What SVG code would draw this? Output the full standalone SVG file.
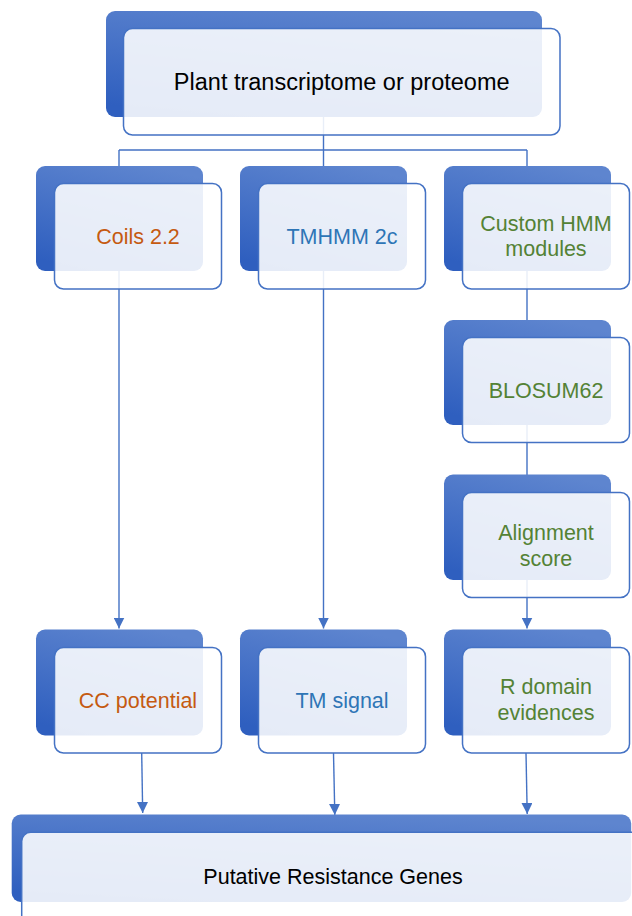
<svg xmlns="http://www.w3.org/2000/svg" width="632" height="916" viewBox="0 0 632 916">
<defs>
<linearGradient id="bg" x1="0.7" y1="0" x2="0.3" y2="1">
<stop offset="0" stop-color="#5e85cf"/>
<stop offset="1" stop-color="#2f5fbf"/>
</linearGradient>
<marker id="ah" viewBox="0 0 10 10" refX="10" refY="5" markerWidth="11" markerHeight="11" markerUnits="userSpaceOnUse" orient="auto">
<path d="M0,0 L10,5 L0,10 z" fill="#4472c4"/>
</marker>
<style>
.back{fill:url(#bg);}
.front{fill:#ffffff;fill-opacity:0.88;stroke:#4472c4;stroke-width:1.5;}
.conn{fill:none;stroke:#4472c4;stroke-width:1.4;}
text{font-family:"Liberation Sans",Arial,sans-serif;font-size:21.5px;text-anchor:middle;}
.k{fill:#000000;}
.o{fill:#c55a11;}
.b{fill:#2e75b6;}
.g{fill:#548235;}
</style>
</defs>
<rect width="632" height="916" fill="#ffffff"/>
<g id="connectors">
<path class="conn" d="M323.5,110 V150 M119,150 H527 M119,150 V200 M323.5,150 V200 M527,150 V200"/>
<path class="conn" d="M527,200 V340"/>
<path class="conn" d="M527,360 V490"/>
<path class="conn" d="M527,520 V628.5" marker-end="url(#ah)"/>
<path class="conn" d="M119,200 V628.5" marker-end="url(#ah)"/>
<path class="conn" d="M323.5,200 V628.5" marker-end="url(#ah)"/>
<path class="conn" d="M141.7,753 L142.7,813" marker-end="url(#ah)"/>
<path class="conn" d="M333.5,753 L334.8,815" marker-end="url(#ah)"/>
<path class="conn" d="M526,753 L527.2,814" marker-end="url(#ah)"/>
</g>
<g id="node-top">
<rect class="back" x="106" y="11" width="436" height="106" rx="9"/>
<rect class="front" x="123.5" y="28.5" width="436.5" height="106.5" rx="9"/>
<text class="k" x="341.7" y="89.5" style="font-size:23.5px">Plant transcriptome or proteome</text>
</g>
<g id="node-coils">
<rect class="back" x="36" y="166" width="167" height="105" rx="9"/>
<rect class="front" x="54.5" y="183.5" width="167" height="105.5" rx="9"/>
<text class="o" x="138" y="243.5">Coils 2.2</text>
</g>
<g id="node-tmhmm">
<rect class="back" x="240" y="166" width="167" height="105" rx="9"/>
<rect class="front" x="258.5" y="183.5" width="167" height="105.5" rx="9"/>
<text class="b" x="342" y="243.5">TMHMM 2c</text>
</g>
<g id="node-hmm">
<rect class="back" x="444" y="166" width="167" height="105" rx="9"/>
<rect class="front" x="462.5" y="183.5" width="167" height="105.5" rx="9"/>
<text class="g" x="546" y="230.5">Custom HMM</text>
<text class="g" x="546" y="256">modules</text>
</g>
<g id="node-blosum">
<rect class="back" x="444" y="320" width="167" height="105" rx="9"/>
<rect class="front" x="462.5" y="337.5" width="167" height="105" rx="9"/>
<text class="g" x="546" y="397.5">BLOSUM62</text>
</g>
<g id="node-align">
<rect class="back" x="444" y="474.5" width="167" height="105.5" rx="9"/>
<rect class="front" x="462.5" y="492.5" width="167" height="105" rx="9"/>
<text class="g" x="546" y="539.5">Alignment</text>
<text class="g" x="546" y="565.5">score</text>
</g>
<g id="node-cc">
<rect class="back" x="36" y="629.5" width="167" height="106" rx="9"/>
<rect class="front" x="54.5" y="647.5" width="167" height="105.5" rx="9"/>
<text class="o" x="138" y="707.5">CC potential</text>
</g>
<g id="node-tm">
<rect class="back" x="240" y="629.5" width="167" height="106" rx="9"/>
<rect class="front" x="258.5" y="647.5" width="167" height="105.5" rx="9"/>
<text class="b" x="342" y="707.5">TM signal</text>
</g>
<g id="node-r">
<rect class="back" x="444" y="629.5" width="167" height="106" rx="9"/>
<rect class="front" x="462.5" y="647.5" width="167" height="105.5" rx="9"/>
<text class="g" x="546" y="694">R domain</text>
<text class="g" x="546" y="719.5">evidences</text>
</g>
<g id="node-putative">
<rect class="back" x="11.7" y="814.5" width="619.5" height="87.5" rx="9"/>
<rect class="front" x="21.7" y="832.3" width="640" height="120" rx="9"/>
<text class="k" x="333" y="883.5">Putative Resistance Genes</text>
</g>
</svg>
